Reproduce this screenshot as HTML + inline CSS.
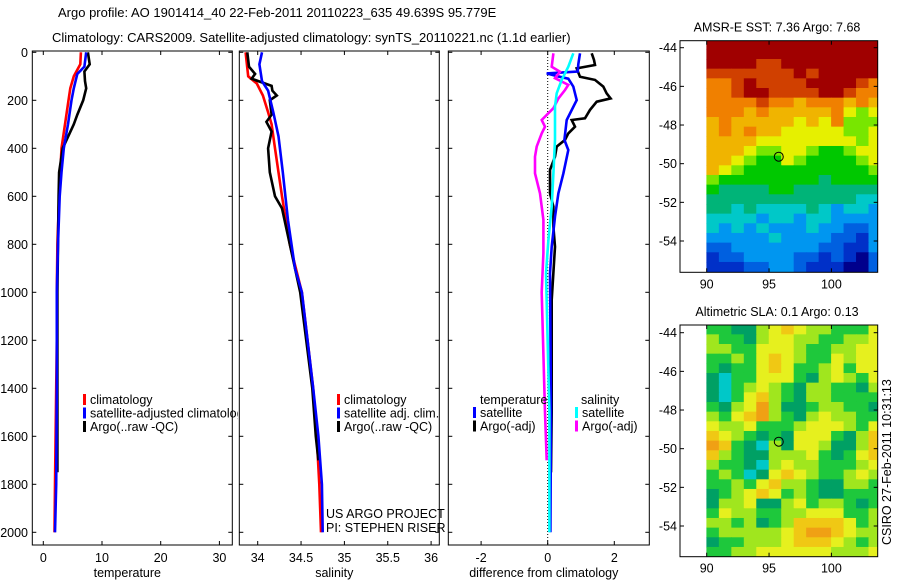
<!DOCTYPE html>
<html><head><meta charset="utf-8"><style>
html,body{margin:0;padding:0;background:#fff;}
svg{display:block;font-family:"Liberation Sans",sans-serif;}
text{font-size:12.5px;fill:#000;}
</style></head><body>
<svg id="fig" width="900" height="580" viewBox="0 0 900 580" xmlns="http://www.w3.org/2000/svg">
<defs>
<clipPath id="c1"><rect x="32.3" y="51" width="200" height="494"/></clipPath>
<clipPath id="c2"><rect x="239.3" y="51" width="200" height="494"/></clipPath>
<clipPath id="c3"><rect x="448.3" y="51" width="201" height="494"/></clipPath>
<clipPath id="cleg1"><rect x="32.3" y="380" width="205.5" height="60"/></clipPath>
<clipPath id="cm1"><rect x="705" y="40.7" width="172.7" height="231.6"/></clipPath>
<clipPath id="cm2"><rect x="705" y="325" width="172.7" height="231.7"/></clipPath>
</defs>
<text x="58" y="17" style="font-size:13px">Argo profile: AO 1901414_40 22-Feb-2011 20110223_635 49.639S 95.779E</text>
<text x="52" y="42" style="font-size:13px">Climatology: CARS2009. Satellite-adjusted climatology: synTS_20110221.nc (1.1d earlier)</text>
<g id="g1"></g>
<g id="g2"></g>
<g id="g3"></g>
<g id="m1"></g>
<g id="m2"></g>
<text transform="translate(891,545) rotate(-90)" style="font-size:12.5px">CSIRO 27-Feb-2011 10:31:13</text>
</svg>
<script>
// ---- data ----
const depthTicks=[0,200,400,600,800,1000,1200,1400,1600,1800,2000];
const tempTicks=[0,10,20,30];
const salTicks=[34,34.5,35,35.5,36];
const diffTicks=[-2,0,2];
const latTicks=[-44,-46,-48,-50,-52,-54];
const lonTicks=[90,95,100];

const tClimDepth=[0,50,100,150,200,300,400,500,600,800,1000,1200,1400,1600,1800,2000];
const tClim=[6.4,6.3,5.2,4.6,4.3,3.7,3.1,2.9,2.7,2.4,2.3,2.3,2.2,2.1,2.0,1.9];
const tSatDepth=[0,60,90,150,200,300,400,500,600,800,1000,1400,1800,2000];
const tSat=[7.3,7.0,5.8,5.2,4.8,4.2,3.5,3.1,2.8,2.5,2.3,2.3,2.2,2.0];
const tArgoDepth=[0,50,80,120,150,200,260,300,400,500,600,800,1000,1400,1750];
const tArgo=[7.6,7.9,7.0,7.1,7.3,6.8,5.8,5.2,3.3,2.7,2.6,2.5,2.4,2.4,2.4];

const sClimDepth=[0,100,130,180,250,300,400,500,600,800,1000,1400,1600,1800,2000];
const sClim=[33.86,33.89,33.99,34.06,34.12,34.16,34.2,34.24,34.28,34.37,34.51,34.64,34.68,34.71,34.73];
const sSatDepth=[0,50,120,160,250,350,500,700,900,1000,1400,1600,1800,2000];
const sSat=[34.05,34.02,34.05,34.12,34.18,34.24,34.29,34.35,34.43,34.51,34.64,34.70,34.74,34.75];
const sArgoDepth=[0,60,90,110,140,160,180,200,260,290,330,400,500,600,650,800,1000,1400,1600,1700];
const sArgo=[33.88,33.9,33.97,33.93,34.16,34.17,34.22,34.14,34.16,34.1,34.16,34.12,34.14,34.2,34.28,34.37,34.49,34.63,34.67,34.7];

const dTSatDepth=[4,50,80,88,100,110,143,199,282,365,407,504,587,685,810,921,1500,2000];
const dTSat=[0.97,0.92,0.9,-0.03,0.3,0.62,0.77,0.87,0.57,0.5,0.62,0.47,0.32,0.22,0.12,0.07,0.1,0.08];
const dTArgoDepth=[4,32,53,67,102,115,143,171,192,206,240,275,282,310,338,365,393,435,490,532,588,643,727,810,1032,1500,1750];
const dTArgo=[1.32,1.39,1.42,0.87,0.97,1.42,1.67,1.77,1.89,1.47,1.27,1.12,0.72,0.82,0.62,0.52,0.27,0.22,0.07,0.07,0.07,0.17,0.17,0.22,0.12,0.12,0.1];
const dSSatDepth=[4,60,115,171,226,365,504,643,782,921,1500,2000];
const dSSat=[0.77,0.62,0.42,0.27,0.22,0.22,0.17,0.12,0.02,-0.05,0.05,0.05];
const dSArgoDepth=[4,60,81,108,136,157,192,233,282,310,338,393,435,504,588,698,837,1000,1500,1700];
const dSArgo=[0.17,0.12,0.37,0.22,0.62,0.52,0.32,0.17,-0.18,-0.08,-0.18,-0.33,-0.38,-0.38,-0.23,-0.13,-0.13,-0.18,-0.08,-0.03];

const sstRows=["cccccccccccccc","cccccccccccccc","ccccbbcccccccc","bbbbbbbcbccccc","aabcbbbbccccba","aabccbbbbccbaa","aaaabaa9aaa9a9","aaa9a99999a878","9a99999898a777","9a9a9988888778","99998888888878","99987788766788","99876687666678","98766666666667","76666666656666","65555665555555","55555555555544","55454444543443","44443443443333","43434333433223","33333433332213","22333333322113","12233332212102","11122332111002"];
const slaRows=["33224565443335","43324554433445","44335554334455","33435654335455","32335653345355","21335553245435","21345432443324","21356432443333","32457422344332","43567432454433","54453334555435","65432325553246","76321425542246","64322444532356","43321454433345","34312565433454","33435644322443","23456534322333","24452245344323","35443344555334","44342346666534","34444456776544","23344456665434","33445555554445"];
const argoLon=95.779, argoLat=-49.639;

// ---- helpers ----
const NS="http://www.w3.org/2000/svg";
function mk(tag,attrs,parent){const e=document.createElementNS(NS,tag);for(const k in attrs)e.setAttribute(k,attrs[k]);parent.appendChild(e);return e;}
const yD=d=>52.3+0.24*d;
const xT=t=>43.3+5.87*t;
const xS=s=>257.7+86.7*(s-34);
const xDf=v=>547.7+33.3*v;
const lonX=l=>706.7+12.47*(l-90);
const latY1=l=>47.7+19.33*(-44-l);
const latY2=l=>332.7+19.33*(-44-l);

function panel(g,x0,x1,xf,xticks,label,clip,showDepth){
  for(const t of xticks){
    const x=xf(t);
    let tk=mk('line',{x1:x,x2:x,y1:545,y2:541,stroke:'#000'},g);
    
    tk=mk('line',{x1:x,x2:x,y1:51,y2:55,stroke:'#000'},g);
    
    const tl=mk('text',{x:x,y:562,'text-anchor':'middle'},g);tl.textContent=String(t);
    
  }
  for(const d of depthTicks){
    const y=yD(d);
    let tk=mk('line',{x1:x0,x2:x0+4,y1:y,y2:y,stroke:'#000'},g);
    
    tk=mk('line',{x1:x1-4,x2:x1,y1:y,y2:y,stroke:'#000'},g);
    
    if(showDepth){const tl=mk('text',{x:28,y:y+4.5,'text-anchor':'end'},g);tl.textContent=String(d);
      }
  }
  const r=mk('rect',{x:x0,y:51,width:x1-x0,height:494,fill:'none',stroke:'#000','stroke-width':1},g);
  
  const xl=mk('text',{x:(x0+x1)/2-5,y:577,'text-anchor':'middle'},g);xl.textContent=label;
  
  const lg=mk('g',{'clip-path':'url(#'+clip+')'},g);
  return lg;
}
function line(g,depths,vals,xf,color,name){
  const pts=depths.map((d,i)=>xf(vals[i]).toFixed(1)+','+yD(d).toFixed(1)).join(' ');
  const p=mk('polyline',{points:pts,fill:'none',stroke:color,'stroke-width':2.6,'stroke-linejoin':'miter'},g);
  
}
function legend(g,x,y,items){
  items.forEach((it,i)=>{
    const yy=y+i*13.5;
    if(it[0]){const m=mk('rect',{x:x,y:yy-10,width:3,height:11,fill:it[0]},g);
      }
    const t=mk('text',{x:x+(it[0]?7:-1),y:yy},g);t.textContent=it[1];
    
  });
}

// ---- panel 1 ----
const g1=document.getElementById('g1');
const l1=panel(g1,32.3,232.3,xT,tempTicks,'temperature','c1',true);
line(l1,tClimDepth,tClim,xT,'#ff0000','temp-climatology-line');
line(l1,tArgoDepth,tArgo,xT,'#000000','temp-argo-line');
line(l1,tSatDepth,tSat,xT,'#0000ff','temp-satellite-line');
const leg1=mk('g',{'clip-path':'url(#cleg1)'},g1);

legend(leg1,83,404,[['#ff0000','climatology'],['#0000ff','satellite-adjusted climatology'],['#000','Argo(..raw -QC)']]);

// ---- panel 2 ----
const g2=document.getElementById('g2');
const l2=panel(g2,239.3,439.3,xS,salTicks,'salinity','c2',false);
line(l2,sClimDepth,sClim,xS,'#ff0000','sal-climatology-line');
line(l2,sArgoDepth,sArgo,xS,'#000000','sal-argo-line');
line(l2,sSatDepth,sSat,xS,'#0000ff','sal-satellite-line');
legend(g2,337,404,[['#ff0000','climatology'],['#0000ff','satellite adj. clim.'],['#000','Argo(..raw -QC)']]);
let t=mk('text',{x:326,y:518},g2);t.textContent='US ARGO PROJECT';

t=mk('text',{x:326,y:532},g2);t.textContent='PI: STEPHEN RISER';


// ---- panel 3 ----
const g3=document.getElementById('g3');
const l3=panel(g3,448.3,649.3,xDf,diffTicks,'difference from climatology','c3',false);
const zl=mk('line',{x1:xDf(0),x2:xDf(0),y1:51,y2:545,stroke:'#000','stroke-dasharray':'1,2'},l3);

line(l3,dTArgoDepth,dTArgo,xDf,'#000000','diff-temp-argo-line');
line(l3,dTSatDepth,dTSat,xDf,'#0000ff','diff-temp-satellite-line');
line(l3,dSArgoDepth,dSArgo,xDf,'#ff00ff','diff-sal-argo-line');
line(l3,dSSatDepth,dSSat,xDf,'#00ffff','diff-sal-satellite-line');
legend(g3,481,404,[[null,'temperature']]);
legend(g3,473,417,[['#0000ff','satellite'],['#000','Argo(-adj)']]);
legend(g3,582,404,[[null,'salinity']]);
legend(g3,575,417,[['#00ffff','satellite'],['#ff00ff','Argo(-adj)']]);

// ---- maps ----
const sstPal={'0':'#00008c','1':'#0030c8','2':'#0060e0','3':'#0096f0','4':'#00c8c8','5':'#00b478','6':'#00c800','7':'#78e600','8':'#e6f000','9':'#f0b400','a':'#f08000','b':'#d04000','c':'#a00000'};
const slaPal={'0':'#0096e6','1':'#00c8c8','2':'#00a064','3':'#1ec83c','4':'#a0e61e','5':'#e6f01e','6':'#f0c814','7':'#f0a014'};
function drawMap(g,rows,pal,latY,top,bot,title,clip){
  const tt=mk('text',{x:777,y:top-9,'text-anchor':'middle'},g);tt.textContent=title;
  
  const cg=mk('g',{'clip-path':'url(#'+clip+')'},g);
  rows.forEach((row,j)=>{
    const y0=latY(-43.6-0.5*j), y1=latY(-44.1-0.5*j);
    for(let i=0;i<row.length;i++){
      const x0=lonX(90+i), x1=lonX(91+i);
      const c=mk('rect',{x:x0-0.3,y:y0-0.3,width:x1-x0+0.6,height:y1-y0+0.6,fill:pal[row[i]]},cg);
      
    }
  });
  const L=680,R=877.7;
  for(const la of latTicks){
    const y=latY(la);
    mk('line',{x1:L,x2:L+4,y1:y,y2:y,stroke:'#000'},g);
    mk('line',{x1:R-4,x2:R,y1:y,y2:y,stroke:'#000'},g);
    const tl=mk('text',{x:677,y:y+4.5,'text-anchor':'end'},g);tl.textContent=String(la);
    
  }
  for(const lo of lonTicks){
    const x=lonX(lo);
    mk('line',{x1:x,x2:x,y1:bot,y2:bot-4,stroke:'#000'},g);
    mk('line',{x1:x,x2:x,y1:top,y2:top+4,stroke:'#000'},g);
    const tl=mk('text',{x:x,y:bot+16,'text-anchor':'middle'},g);tl.textContent=String(lo);
    
  }
  const fr=mk('rect',{x:L,y:top,width:R-L,height:bot-top,fill:'none',stroke:'#000'},g);
  
  const ci=mk('circle',{cx:lonX(argoLon),cy:latY(argoLat),r:4.5,fill:'none',stroke:'#000','stroke-width':1},g);
  
}
drawMap(document.getElementById('m1'),sstRows,sstPal,latY1,40.7,272.3,'AMSR-E SST: 7.36 Argo: 7.68','cm1');
drawMap(document.getElementById('m2'),slaRows,slaPal,latY2,325,556.7,'Altimetric SLA: 0.1 Argo: 0.13','cm2');
</script>
</body></html>
